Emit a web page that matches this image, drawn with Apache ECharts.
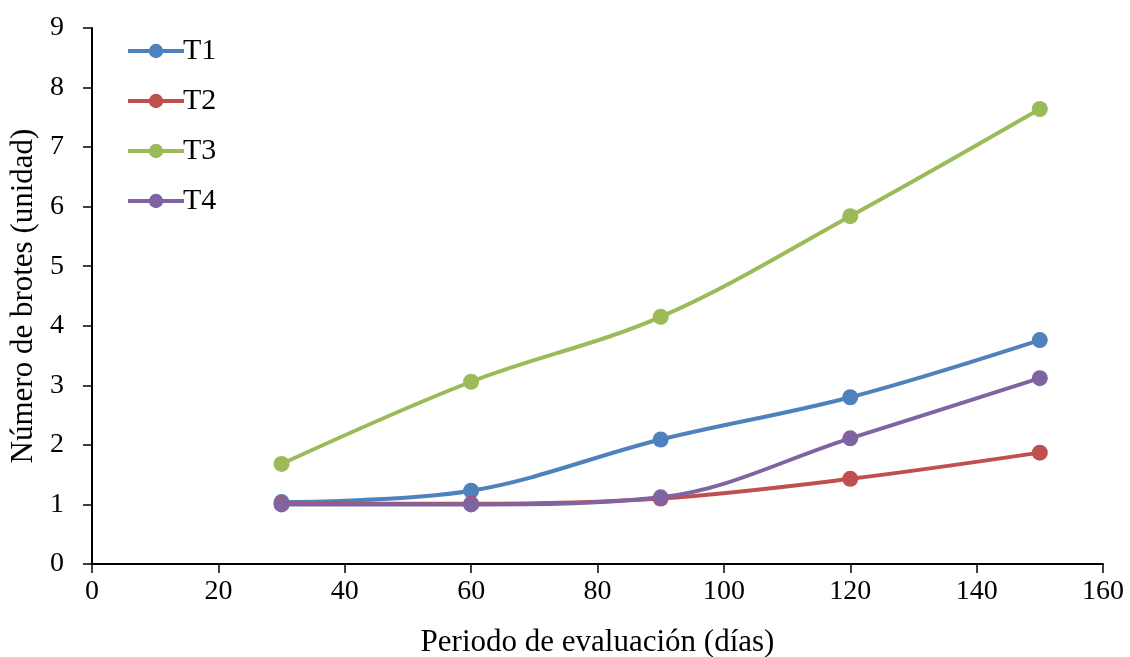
<!DOCTYPE html>
<html><head><meta charset="utf-8">
<script src="https://cdn.jsdelivr.net/npm/echarts@6/dist/echarts.min.js"></script>
<style>html,body{margin:0;padding:0;background:#fff}#c{width:1130px;height:657px}</style>
</head><body><div id="c"></div>
<script>
const days = [30, 60, 90, 120, 150];
const T1 = [1.04, 1.23, 2.09, 2.80, 3.76];
const T2 = [1.01, 1.01, 1.10, 1.43, 1.87];
const T3 = [1.68, 3.06, 4.15, 5.84, 7.64];
const T4 = [1.00, 1.00, 1.12, 2.11, 3.12];
const names = ['T1','T2','T3','T4'];
const colors = ['#4F81BD','#C0504D','#9BBB59','#8064A2'];
const all = [T1,T2,T3,T4];
const font = 'Liberation Serif';
const chart = echarts.init(document.getElementById('c'));
chart.setOption({
  animation:false,
  textStyle:{fontFamily:font},
  grid:{left:92,right:27,top:28,bottom:93,containLabel:false,outerBoundsMode:'none'},
  legend:{
    orient:'vertical', left:121, top:31, itemGap:20, itemWidth:56, itemHeight:18,
    lineStyle:{width:4},
    textStyle:{fontFamily:font,fontSize:30,color:'#000',padding:[0,0,0,-6]},
    data:names
  },
  xAxis:{
    type:'value', min:0, max:160, interval:20,
    name:'Periodo de evaluación (días)', nameLocation:'middle', nameGap:63,
    nameTextStyle:{fontFamily:font,fontSize:31,color:'#000'},
    axisLine:{lineStyle:{color:'#000',width:2}},
    axisTick:{show:true,length:9,lineStyle:{color:'#000',width:1.5}},
    axisLabel:{fontFamily:font,fontSize:28,color:'#000',margin:14},
    splitLine:{show:false}
  },
  yAxis:{
    type:'value', min:0, max:9, interval:1,
    name:'Número de brotes (unidad)', nameLocation:'middle', nameGap:53,
    nameTextStyle:{fontFamily:font,fontSize:31,color:'#000'},
    axisLine:{show:true,lineStyle:{color:'#000',width:2}},
    axisTick:{show:true,length:9,lineStyle:{color:'#000',width:1.5}},
    axisLabel:{fontFamily:font,fontSize:28,color:'#000',margin:28},
    splitLine:{show:false}
  },
  series: all.map((d,i)=>({
    name:names[i], type:'line', smooth:0.35,
    data: days.map((x,j)=>[x,d[j]]),
    symbol:'circle', symbolSize:16,
    lineStyle:{width:4,color:colors[i]},
    itemStyle:{color:colors[i]}
  }))
});
</script></body></html>
